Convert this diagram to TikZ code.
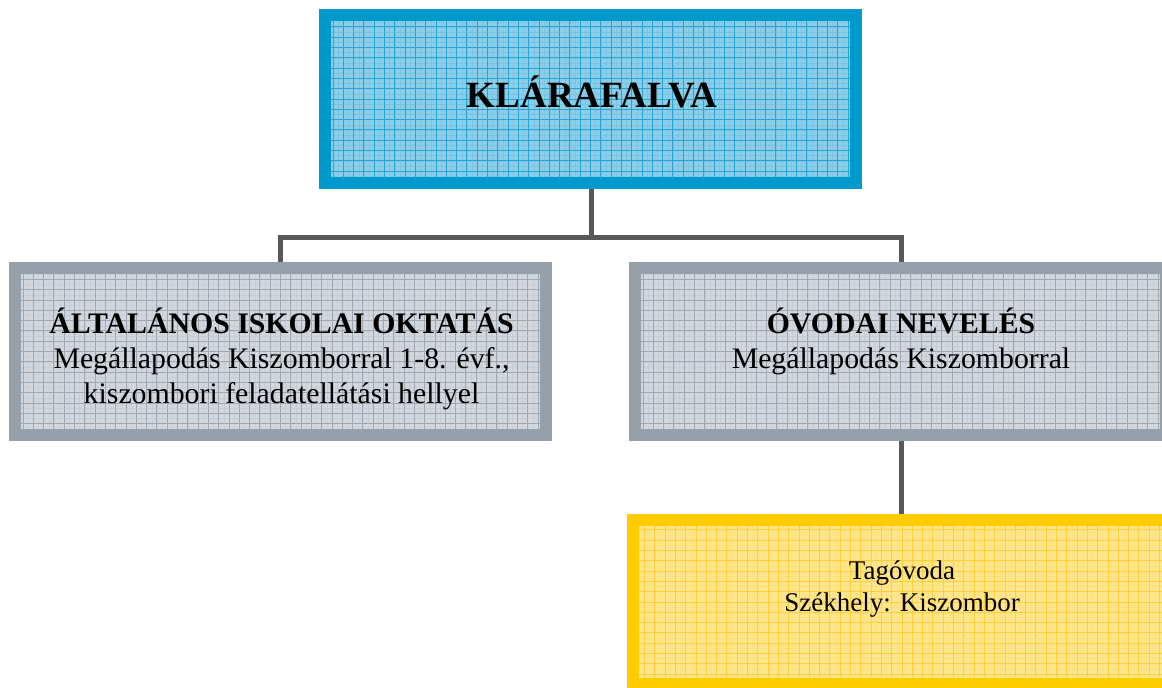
\documentclass[tikz,border=0pt]{standalone}
\usepackage{fontspec}
\setmainfont{Liberation Serif}
\definecolor{bluebd}{RGB}{0,153,204}
\definecolor{bluefl}{RGB}{140,206,232}
\definecolor{bluegr}{RGB}{40,165,212}
\definecolor{graybd}{RGB}{150,160,170}
\definecolor{grayfl}{RGB}{210,215,222}
\definecolor{graygr}{RGB}{160,168,178}
\definecolor{yelbd}{RGB}{255,204,0}
\definecolor{yelfl}{RGB}{255,230,140}
\definecolor{yelgr}{RGB}{255,208,60}
\definecolor{linecol}{RGB}{88,89,91}
\tikzset{
  orgbox/.style n args={3}{inner sep=0pt, outer sep=0pt, draw=none, fill=#1,
    path picture={
      \fill[#2] ([shift={(12pt,-12pt)}]path picture bounding box.north west)
         rectangle ([shift={(-12pt,12pt)}]path picture bounding box.south east);
      \begin{scope}
        \clip ([shift={(12pt,-12pt)}]path picture bounding box.north west)
         rectangle ([shift={(-12pt,12pt)}]path picture bounding box.south east);
        \draw[#3, opacity=0.18, line width=0.5pt, step=5.15pt]
          (path picture bounding box.south west) grid (path picture bounding box.north east);
        \draw[#3, line width=0.9pt, step=10.3pt]
          (path picture bounding box.south west) grid (path picture bounding box.north east);
      \end{scope}
    }},
  bluebox/.style={orgbox={bluebd}{bluefl}{bluegr}},
  graybox/.style={orgbox={graybd}{grayfl}{graygr}},
  yelbox/.style={orgbox={yelbd}{yelfl}{yelgr}},
  lbl/.style={inner sep=0pt, outer sep=0pt, align=center, text=black},
  conn/.style={draw=linecol, line width=5.5pt},
}
\begin{document}
\begin{tikzpicture}[x=1pt,y=-1pt]
\useasboundingbox (0,0) rectangle (1162,688);
\clip (0,0) rectangle (1162,688);
\fill[white] (0,0) rectangle (1162,688);
% boxes
\node[bluebox, minimum width=543pt, minimum height=180pt] (top) at (590.5,99) {};
\node[graybox, minimum width=543pt, minimum height=179pt] (iskola) at (280.5,351.5) {};
\node[graybox, minimum width=543pt, minimum height=179pt] (ovoda) at (900.5,351.5) {};
\node[yelbox, minimum width=550pt, minimum height=176pt] (tag) at (902,602) {};
% connector junction coordinates
\coordinate (jc) at (591.5,237.5);
\coordinate (jl) at (280.5,237.5);
\coordinate (jr) at (901.5,237.5);
% connectors
\draw[conn] (top.south -| jc) -- (jc);
\draw[conn] (jl |- iskola.north) -- (jl) -- (jr) -- (jr |- ovoda.north);
\draw[conn] (ovoda.south -| jr) -- (jr |- tag.north);
% labels
\node[lbl, anchor=base, font=\fontsize{37}{42}\selectfont\bfseries] (ttop) at (592,107) {KLÁRAFALVA};
\node[lbl, anchor=north, font=\fontsize{29.8}{35}\selectfont] (tisk) at (281.5,307.5)
  {\textbf{ÁLTALÁNOS ISKOLAI OKTATÁS}\\Megállapodás Kiszomborral 1-8. évf.,\\kiszombori feladatellátási hellyel};
\node[lbl, anchor=north, font=\fontsize{29.8}{35}\selectfont] (tovo) at (901,307.5)
  {\textbf{ÓVODAI NEVELÉS}\\Megállapodás Kiszomborral};
\node[lbl, anchor=north, font=\fontsize{27}{32}\selectfont] (ttag) at (902,561)
  {Tagóvoda\\Székhely: Kiszombor};
\end{tikzpicture}
\end{document}
